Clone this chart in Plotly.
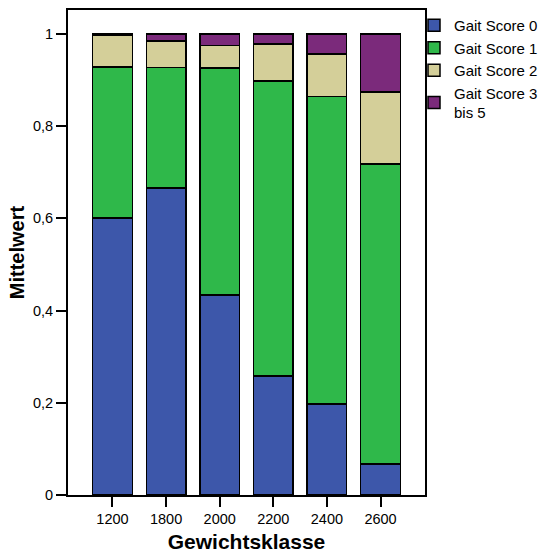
import plotly.graph_objects as go

categories = ["1200", "1800", "2000", "2200", "2400", "2600"]
series_names = ["Gait Score 0", "Gait Score 1", "Gait Score 2", "Gait Score 3<br>bis 5"]
score0 = [0.601, 0.666, 0.434, 0.258, 0.197, 0.067]
score1 = [0.327, 0.261, 0.492, 0.640, 0.667, 0.651]
score2 = [0.069, 0.058, 0.049, 0.080, 0.093, 0.156]
score3_5 = [0.003, 0.015, 0.025, 0.022, 0.043, 0.126]
colors = ["#3d57aa", "#2fb84a", "#d4cf99", "#7b2a7b"]
y_tickvals = [0, 0.2, 0.4, 0.6, 0.8, 1]

FONT = "Liberation Sans, Arial, sans-serif"
W, H = 539, 554
ML, MR, MT, MB = 68, 114, 10, 59
PW, PH = W - ML - MR, H - MT - MB

fig = go.Figure()
for name, vals, col in zip(series_names, [score0, score1, score2, score3_5], colors):
    fig.add_trace(go.Bar(
        x=categories, y=vals, name=name,
        marker=dict(color=col, line=dict(color="black", width=1.5)),
    ))

fig.update_layout(
    width=W, height=H,
    barmode="stack", bargap=0.262,
    separators=",.",
    paper_bgcolor="white", plot_bgcolor="white",
    margin=dict(l=ML, r=MR, t=MT, b=MB, autoexpand=False),
    font=dict(family=FONT, size=14, color="black"),
    legend=dict(
        traceorder="normal",
        x=(414 - ML) / PW, xanchor="left", y=1 + 1 / PH, yanchor="top",
        font=dict(size=15, family=FONT),
        bgcolor="rgba(0,0,0,0)",
    ),
    xaxis=dict(
        type="category", range=[-0.83, 5.83], automargin=False,
        showline=True, linecolor="black", linewidth=2, mirror=True,
        ticks="outside", ticklen=10, tickwidth=2, tickcolor="black",
        tickfont=dict(size=14.5),
        title=dict(text="<b>Gewichtsklasse</b>", font=dict(size=21), standoff=8),
        showgrid=False,
    ),
    yaxis=dict(
        range=[0, 1.052], tickvals=y_tickvals, automargin=False,
        showline=True, linecolor="black", linewidth=2, mirror=True,
        ticks="outside", ticklen=10, tickwidth=2, tickcolor="black",
        tickfont=dict(size=14.5),
        title=dict(text="<b>Mittelwert</b>", font=dict(size=20), standoff=3),
        showgrid=False, zeroline=False,
    ),
)

fig.write_html(
    "out.html",
    config={"displayModeBar": False},
    post_script="document.body.style.margin='0';document.body.style.overflow='hidden';",
)
